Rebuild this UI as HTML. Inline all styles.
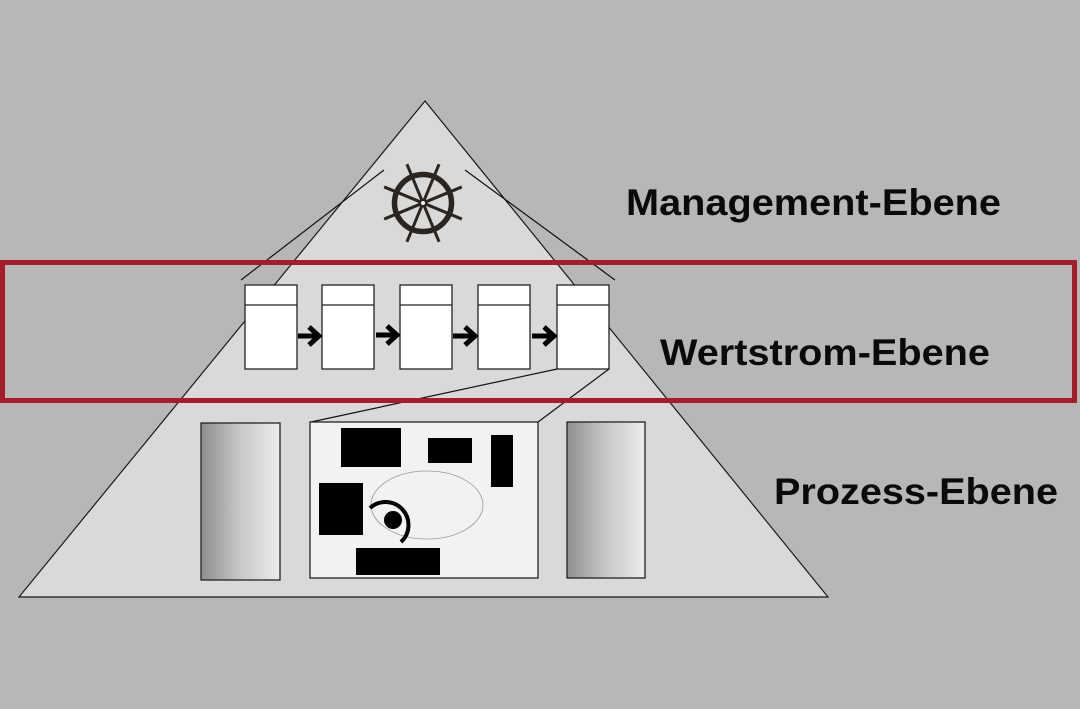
<!DOCTYPE html>
<html><head><meta charset="utf-8"><style>
html,body{margin:0;padding:0;background:#b6b7b6;}
svg{display:block}
text{font-family:"Liberation Sans",Arial,sans-serif;font-weight:bold;fill:#0a0a0a}
</style></head><body>
<svg width="1080" height="709" viewBox="0 0 1080 709" xmlns="http://www.w3.org/2000/svg">
<defs>
<linearGradient id="g" x1="0" x2="1" y1="0" y2="0">
<stop offset="0" stop-color="#8e8e8e"/><stop offset="0.5" stop-color="#c8c8c8"/><stop offset="1" stop-color="#ececec"/>
</linearGradient>
</defs>
<rect width="1080" height="709" fill="#b6b7b6"/>
<polygon points="425,101 19,597 828,597" fill="#d9d9d9" stroke="#1a1a1a" stroke-width="1.2"/>
<line x1="384" y1="170" x2="241" y2="280" stroke="#111" stroke-width="1.2"/>
<line x1="465" y1="170" x2="615" y2="280" stroke="#111" stroke-width="1.2"/>
<g transform="translate(423,203)" stroke="#2a2520" fill="none">
<circle r="28.5" stroke-width="5.5"/>
<g stroke-width="3">
<line x1="0" y1="-42" x2="0" y2="42" transform="rotate(22.5)"/>
<line x1="0" y1="-42" x2="0" y2="42" transform="rotate(67.5)"/>
<line x1="0" y1="-42" x2="0" y2="42" transform="rotate(112.5)"/>
<line x1="0" y1="-42" x2="0" y2="42" transform="rotate(157.5)"/>
</g>
<circle r="3" fill="#fff" stroke-width="2"/>
</g>
<g fill="#fff" stroke="#222" stroke-width="1.3">
<rect x="245" y="285" width="52" height="84"/><line x1="245" y1="305" x2="297" y2="305"/>
<rect x="322" y="285" width="52" height="84"/><line x1="322" y1="305" x2="374" y2="305"/>
<rect x="400" y="285" width="52" height="84"/><line x1="400" y1="305" x2="452" y2="305"/>
<rect x="478" y="285" width="52" height="84"/><line x1="478" y1="305" x2="530" y2="305"/>
<rect x="557" y="285" width="52" height="84"/><line x1="557" y1="305" x2="609" y2="305"/>
</g>
<g stroke="#000" stroke-width="5" fill="none">
<line x1="298" y1="336" x2="318" y2="336"/><polyline points="309,327 319,336 309,345"/>
<line x1="376" y1="335" x2="396" y2="335"/><polyline points="387,326 397,335 387,344"/>
<line x1="453" y1="336" x2="474" y2="336"/><polyline points="465,327 475,336 465,345"/>
<line x1="532" y1="336" x2="553" y2="336"/><polyline points="544,327 554,336 544,345"/>
</g>
<line x1="557" y1="369" x2="311" y2="422" stroke="#111" stroke-width="1.2"/>
<line x1="609" y1="369" x2="538" y2="422" stroke="#111" stroke-width="1.2"/>
<rect x="2.5" y="262.5" width="1072" height="138" fill="none" stroke="#a51d2a" stroke-width="5"/>
<rect x="201" y="423" width="79" height="157" fill="url(#g)" stroke="#222" stroke-width="1.3"/>
<rect x="567" y="422" width="78" height="156" fill="url(#g)" stroke="#222" stroke-width="1.3"/>
<rect x="310" y="422" width="228" height="156" fill="#f2f2f2" stroke="#222" stroke-width="1.3"/>
<g fill="#000">
<rect x="341" y="428" width="60" height="39"/>
<rect x="428" y="438" width="44" height="25"/>
<rect x="491" y="435" width="22" height="52"/>
<rect x="319" y="483" width="44" height="52"/>
<rect x="356" y="548" width="84" height="27"/>
<circle cx="393" cy="520" r="9"/>
</g>
<ellipse cx="427" cy="505" rx="56" ry="34" fill="none" stroke="#999" stroke-width="0.8"/>
<path d="M370,508 A20,20 0 0 1 401,542" fill="none" stroke="#000" stroke-width="4"/>
<text x="626" y="215" font-size="37" textLength="375" lengthAdjust="spacingAndGlyphs">Management-Ebene</text>
<text x="660" y="365" font-size="37" textLength="330" lengthAdjust="spacingAndGlyphs">Wertstrom-Ebene</text>
<text x="774" y="504" font-size="37" textLength="284" lengthAdjust="spacingAndGlyphs">Prozess-Ebene</text>
</svg>
</body></html>
